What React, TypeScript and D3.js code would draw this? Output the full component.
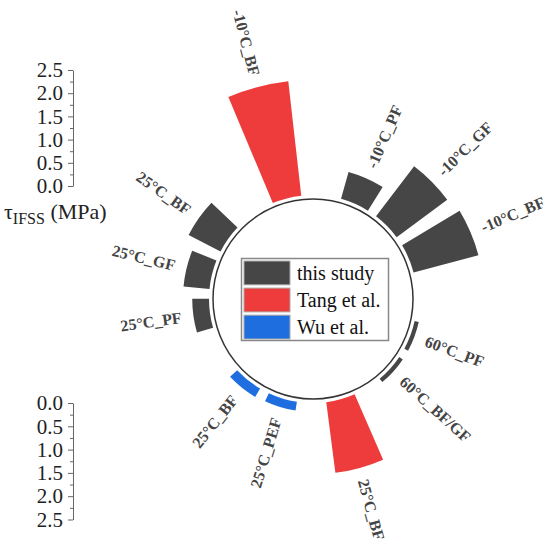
import React, { useEffect, useRef } from "react";
import * as d3 from "d3";

// ---- data ----
const labels = [
  "-10°C_PF", "-10°C_GF", "-10°C_BF",
  "60°C_PF", "60°C_BF/GF",
  "25°C_BF",
  "25°C_PEF", "25°C_BF",
  "25°C_PF", "25°C_GF", "25°C_BF",
  "-10°C_BF",
];
// categorical slot of each bar around the circle (half slots for the reference bars)
const slots = [0, 1, 2, 4, 5, 6.5, 8, 9, 11, 12, 13, 14.85];
const sources = [
  "this study", "this study", "this study",
  "this study", "this study",
  "Tang et al.",
  "Wu et al.", "Wu et al.",
  "this study", "this study", "this study",
  "Tang et al.",
];
const values = [0.6, 1.35, 1.44, 0.09, 0.09, 1.53, 0.19, 0.21, 0.36, 0.56, 0.77, 2.47];
const legendNames = ["this study", "Tang et al.", "Wu et al."];
const tickValues = [0, 0.5, 1.0, 1.5, 2.0, 2.5];
const minorTickValues = [0.25, 0.75, 1.25, 1.75, 2.25];

const W = 550;
const H = 548;
const CX = 313;
const CY = 299;
const CIRCLE_R = 100;
const R0 = 104;
const RMAX = 220.5;
const SLOT_DEG = 21.66;
const START_DEG = 23.75;
const BAR_FRAC = 0.75;

const colors = d3
  .scaleOrdinal<string, string>()
  .domain(legendNames)
  .range(["#464646", "#EE3B3B", "#1F6EDF"]);

export default function App() {
  const ref = useRef<SVGSVGElement | null>(null);

  useEffect(() => {
    const svg = d3.select(ref.current);
    svg.selectAll("*").remove();

    const rScale = d3.scaleLinear().domain([0, 2.5]).range([R0, RMAX]);
    const deg = (p: number) => START_DEG + p * SLOT_DEG;
    const rad = (d: number) => (d * Math.PI) / 180;

    const g = svg.append("g").attr("transform", `translate(${CX},${CY})`);

    // circle
    g.append("circle")
      .attr("r", CIRCLE_R)
      .attr("fill", "none")
      .attr("stroke", "#333")
      .attr("stroke-width", 1.5);

    const arc = d3.arc<any>();
    const halfW = (BAR_FRAC * SLOT_DEG) / 2;

    labels.forEach((lab, i) => {
      const a = deg(slots[i]);
      const outer = rScale(values[i]);
      g.append("path")
        .attr(
          "d",
          arc({
            innerRadius: R0,
            outerRadius: outer,
            startAngle: rad(a - halfW),
            endAngle: rad(a + halfW),
          }) as string
        )
        .attr("fill", colors(sources[i]));

      const lr = outer + 12;
      const x = lr * Math.sin(rad(a));
      const y = -lr * Math.cos(rad(a));
      const norm = ((a % 360) + 360) % 360;
      const right = norm < 180;
      const rot = right ? norm - 90 : norm - 270;
      g.append("text")
        .attr("transform", `translate(${x},${y}) rotate(${rot})`)
        .attr("text-anchor", right ? "start" : "end")
        .attr("dominant-baseline", "central")
        .attr("font-family", "'Liberation Serif', 'Times New Roman', serif")
        .attr("font-weight", "bold")
        .attr("font-size", 16)
        .attr("fill", "#444")
        .text(lab);
    });

    // legend
    const lg = svg.append("g");
    lg.append("rect")
      .attr("x", 241.5)
      .attr("y", 258.5)
      .attr("width", 147)
      .attr("height", 82)
      .attr("fill", "#fff")
      .attr("stroke", "#888")
      .attr("stroke-width", 1.5);
    const rowY = d3.scaleBand<string>().domain(legendNames).range([261, 339]).paddingInner(0.12);
    legendNames.forEach((n) => {
      const y0 = rowY(n) as number;
      lg.append("rect")
        .attr("x", 244)
        .attr("y", y0)
        .attr("width", 46)
        .attr("height", rowY.bandwidth())
        .attr("fill", colors(n))
        .attr("stroke", "#aaa")
        .attr("stroke-width", 1);
      lg.append("text")
        .attr("x", 297)
        .attr("y", y0 + rowY.bandwidth() / 2)
        .attr("dominant-baseline", "central")
        .attr("font-family", "'Liberation Serif', 'Times New Roman', serif")
        .attr("font-size", 20)
        .attr("fill", "#111")
        .text(n);
    });

    // radial axes
    const AX = 73;
    const yTop = d3.scaleLinear().domain([0, 2.5]).range([186, 70]);
    const yBot = d3.scaleLinear().domain([0, 2.5]).range([CY + R0, CY + RMAX]);
    [yTop, yBot].forEach((sc) => {
      const ax = svg.append("g").attr("transform", `translate(${AX},0)`);
      ax.call(
        d3
          .axisLeft(sc)
          .tickValues(tickValues)
          .tickFormat(d3.format(".1f") as any)
          .tickSize(5)
          .tickSizeOuter(0)
          .tickPadding(5)
      );
      ax.selectAll("path, line").attr("stroke", "#666");
      ax.selectAll("text")
        .attr("font-family", "'Liberation Serif', 'Times New Roman', serif")
        .attr("font-size", 21)
        .attr("fill", "#222");
      const mg = svg.append("g").attr("transform", `translate(${AX},0)`);
      mg.call(
        d3
          .axisLeft(sc)
          .tickValues(minorTickValues)
          .tickFormat(() => "")
          .tickSize(3)
          .tickSizeOuter(0)
      );
      mg.select("path").remove();
      mg.selectAll("line").attr("stroke", "#666");
    });

    const t = svg
      .append("text")
      .attr("x", 4)
      .attr("y", 219)
      .attr("font-family", "'Liberation Serif', 'Times New Roman', serif")
      .attr("font-size", 22)
      .attr("fill", "#222");
    t.append("tspan").text("τ");
    t.append("tspan").attr("font-size", 16).attr("dy", 5).text("IFSS");
    t.append("tspan").attr("dy", -5).text(" (MPa)");
  }, []);

  return (
    <svg
      ref={ref}
      width={W}
      height={H}
      style={{ position: "absolute", left: 0, top: 0, background: "#fff" }}
    />
  );
}
